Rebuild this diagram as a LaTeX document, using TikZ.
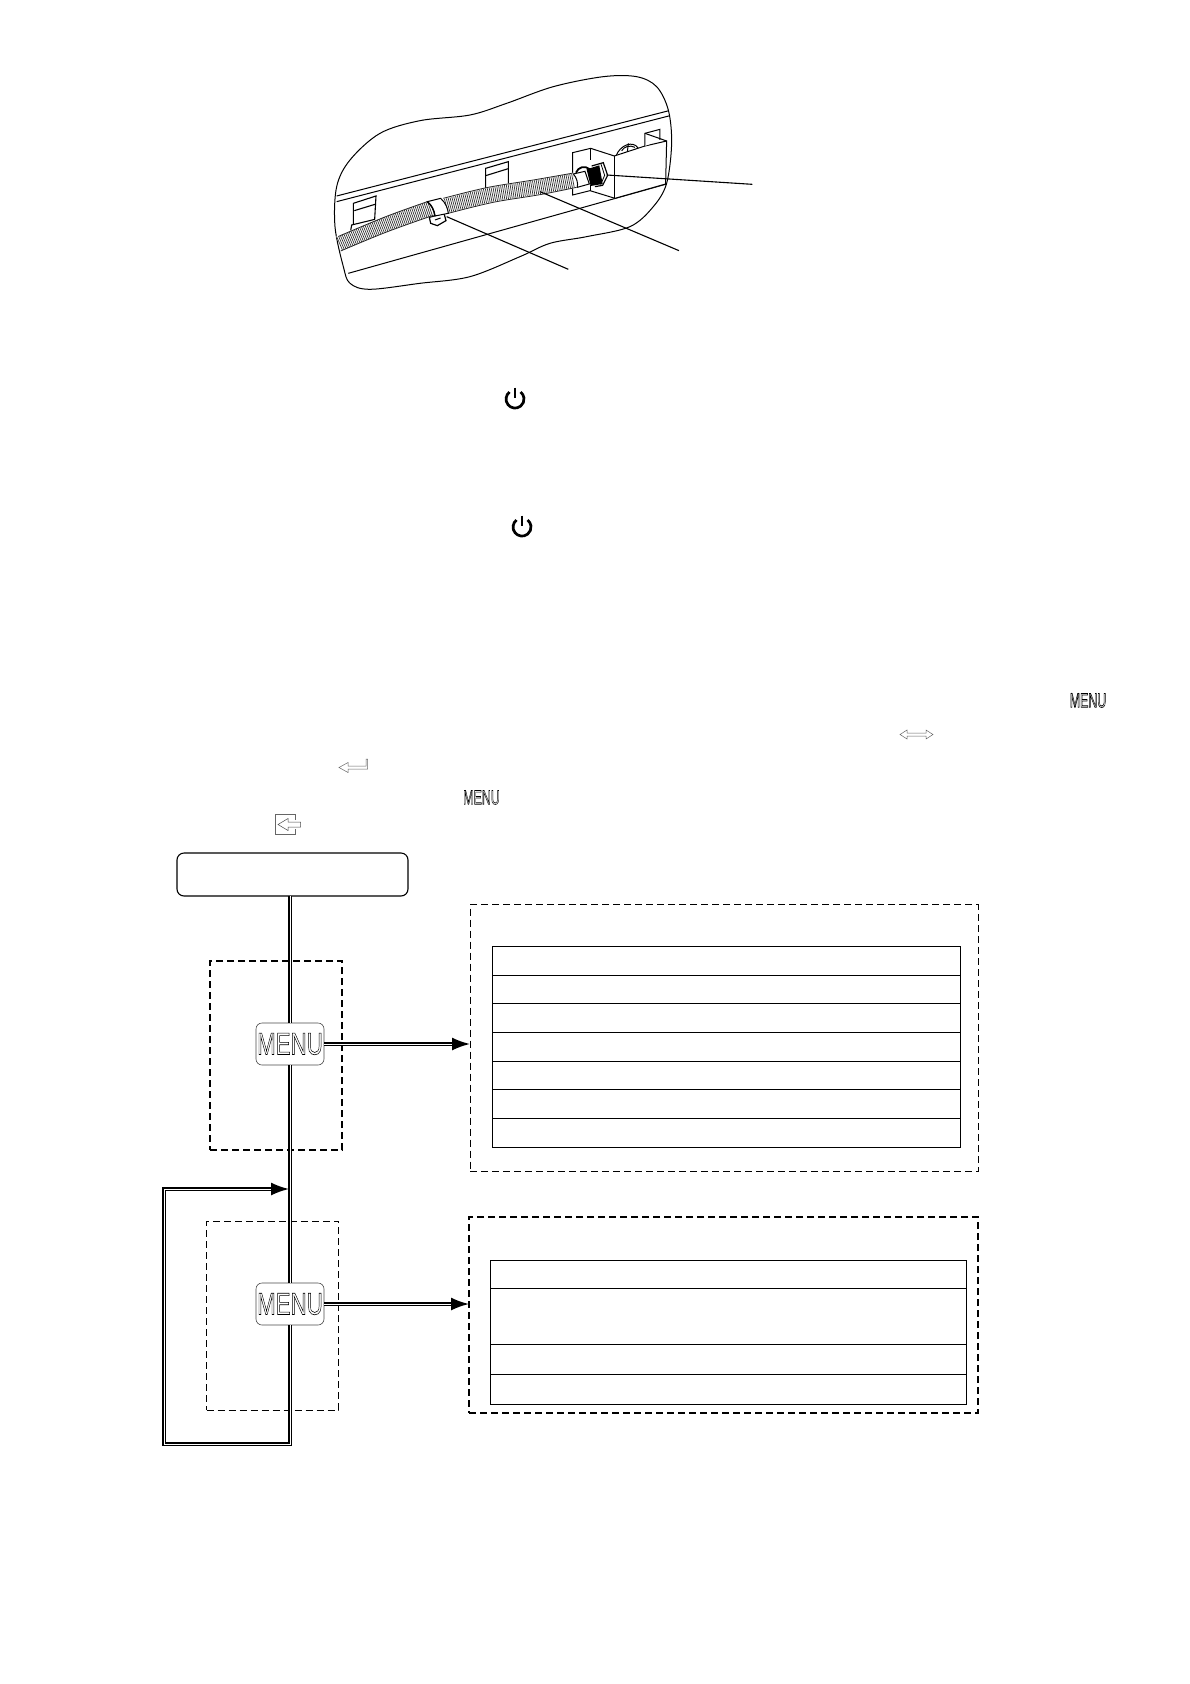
\documentclass[tikz,border=0pt]{standalone}
\usepackage{fontspec}
\setmainfont{Liberation Sans}
\usetikzlibrary{arrows.meta,calc}
\newcommand{\outlinetext}[4]{\scalebox{#2}[1]{\fontsize{#1}{#1}\selectfont\special{pdf:code 1 Tr #3 w}#4\special{pdf:code 0 Tr 0 w}}}
\tikzset{
  thinl/.style={line width=1pt,black},
  dbl/.style={line width=1.8pt,double=white,double distance=1pt,draw=black},
  dblarrow/.style={dbl,-{Latex[length=18pt,width=13pt]}},
  menubox/.style={draw=black!70,line width=0.6pt,rounded corners=6pt,minimum width=68pt,minimum height=42pt,inner sep=0pt,outer sep=0pt,fill=white},
  startbox/.style={draw=black,line width=1.1pt,rounded corners=7pt,minimum width=231pt,minimum height=43pt,inner sep=0pt,outer sep=0pt},
  panel/.style={draw=black,dashed,dash pattern=on 7pt off 4pt,inner sep=0pt,outer sep=0pt},
  tablerow/.style={draw=black,line width=0.9pt},
  icon/.style={draw=black!60,line width=0.5pt,fill=white},
}
\begin{document}
\begin{tikzpicture}[x=1pt,y=-1pt]
\useasboundingbox (0,0) rectangle (1190,1684);
\fill[white] (0,0) rectangle (1190,1684);

% ---------- cut-away sketch, in zoomed coordinates
\begin{scope}[shift={(320,60)},x=0.3333pt,y=-0.3333pt]
  % rails
  \draw[thinl] (50,408) -- (1047,152);
  \draw[thinl] (50,425) -- (1050,167);
  \draw[thinl] (85,640) -- (1040,372);
  % clips
  \draw[thinl,line width=1.1pt] (100,495) -- (100,430) -- (168,408) -- (164,478);
  \draw[thinl,line width=1.1pt] (103,452) -- (165,433);
  \draw[thinl,line width=1.1pt] (92,512) -- (95,495) -- (165,478);
  \draw[thinl,line width=1.1pt] (497,385) -- (497,325) -- (565,305) -- (565,370);
  \draw[thinl,line width=1.1pt] (497,347) -- (565,326);
  % bracket
  \draw[thinl,fill=white] (888,288) .. controls (900,255) and (940,240) .. (955,265);
  \draw[thinl] (905,272) .. controls (915,258) and (930,255) .. (945,262);
  \draw[thinl] (925,250) -- (922,278);
  \draw[thinl,fill=white] (758,278) -- (812,265) -- (883,288) -- (975,258) -- (1040,243) -- (1037,372) -- (885,415) -- (810,392) -- (758,405) -- cycle;
  \draw[thinl] (885,288) -- (885,415);
  \draw[thinl] (812,265) -- (812,300);
  \draw[thinl] (812,375) -- (812,392);
  \draw[thinl,fill=white] (975,258) -- (975,220) -- (1020,208) -- (1020,240);
  \draw[thinl] (975,220) -- (1040,243);
  % blob outline
  \draw[thinl] plot[smooth cycle,tension=0.55] coordinates {(300,182)(450,165)(560,130)(700,80)(850,50)(950,50)(1010,80)(1045,150)(1055,250)(1040,370)(1000,440)(930,500)(800,530)(690,550)(600,590)(450,650)(300,670)(150,688)(90,670)(70,620)(45,500)(50,380)(90,300)(180,220)};
  % clamp foot
  \draw[thinl,line width=1.2pt,fill=white] (328,472) -- (332,490) -- (352,497) -- (378,482) -- (372,460) -- cycle;
  \draw[thinl] (345,480) -- (362,474);
  % hose
  \draw[white,line width=15.5pt] plot[smooth,tension=0.6] coordinates {(58,551)(200,492)(332,445)};
  \draw[white,line width=15.5pt] plot[smooth,tension=0.6] coordinates {(378,438)(510,405)(650,382)(762,361)};
  \draw[black!80,line width=14.5pt,dash pattern=on 0.7pt off 1.2pt] plot[smooth,tension=0.6] coordinates {(58,551)(200,492)(332,445)};
  \draw[black!80,line width=14.5pt,dash pattern=on 0.7pt off 1.2pt] plot[smooth,tension=0.6] coordinates {(378,438)(510,405)(650,382)(762,361)};
  \draw[line width=0.8pt,black!85] plot[smooth,tension=0.6] coordinates {(56,529)(200,469)(325,424)};
  \draw[line width=0.8pt,black!85] plot[smooth,tension=0.6] coordinates {(62,573)(200,516)(340,466)};
  \draw[line width=0.8pt,black!85] plot[smooth,tension=0.6] coordinates {(370,415)(500,383)(640,360)(755,340)};
  \draw[line width=0.8pt,black!85] plot[smooth,tension=0.6] coordinates {(385,460)(520,427)(660,404)(770,382)};
  % clamp band
  \draw[thinl,fill=white] (322,425) -- (362,415) .. controls (378,430) and (383,445) .. (385,460) -- (345,468) .. controls (342,450) and (335,435) .. (322,425) -- cycle;
  \draw[thinl,line width=1.4pt] (322,425) .. controls (335,435) and (342,450) .. (345,468);
  % fitting
  \draw[thinl,line width=1.8pt] (768,338) .. controls (775,320) and (795,316) .. (810,328);
  \draw[thinl,fill=white] (760,342) -- (795,334) -- (808,372) -- (772,382) .. controls (775,370) and (770,352) .. (760,342) -- cycle;
  \fill[black] (800,328) -- (838,316) -- (848,372) -- (812,378) -- cycle;
  \draw[thinl,line width=1.2pt] (815,318) -- (850,308) -- (863,346) -- (848,376) -- (825,380);
  \draw[thinl,line width=0.8pt] (843,312) -- (854,346) -- (842,374);
  % leaders
  \coordinate (leadA) at (860,345); \coordinate (leadAe) at (1297,373);
  \coordinate (leadB) at (660,395); \coordinate (leadBe) at (1077,572);
  \coordinate (leadC) at (380,470); \coordinate (leadCe) at (745,628);
  \draw[thinl,line width=1.1pt] (leadA) -- (leadAe);
  \draw[thinl,line width=1.1pt] (leadB) -- (leadBe);
  \draw[thinl,line width=1.1pt] (leadC) -- (leadCe);
\end{scope}

% ---------- power symbols
\foreach \px/\py in {515/399,522/527}{
  \draw[line width=2.7pt] (\px-5.5,\py-7) arc[start angle=-128,end angle=-412,radius=9] ;
  \draw[line width=2.7pt] (\px,\py-11.5) -- (\px,\py-1);
}

% ---------- inline icons
\node[anchor=center,inner sep=0pt] (menuinlineA) at (1088,700.5) {\outlinetext{20pt}{0.62}{0.7}{MENU}};
\node[anchor=center,inner sep=0pt] (menuinlineB) at (481.5,797.5) {\outlinetext{20pt}{0.62}{0.6}{MENU}};
\draw[icon] (900,734.5) -- (907,730) -- (907,733) -- (926,733) -- (926,730) -- (933,734.5) -- (926,739) -- (926,736) -- (907,736) -- (907,739) -- cycle;
\draw[icon] (339,767.5) -- (348,762.5) -- (348,766) -- (366,766) -- (366,759) -- (367.5,759) -- (367.5,769) -- (348,769) -- (348,772.5) -- cycle;
\draw[line width=0.9pt,draw=black!60] (295.5,820) -- (295.5,814.5) -- (275,814.5) -- (275,834.5) -- (295.5,834.5) -- (295.5,829);
\draw[line width=0.5pt,draw=black!70,fill=white] (278,824.5) -- (288,818.5) -- (288,822) -- (300.5,822) -- (300.5,827) -- (288,827) -- (288,830.5) -- cycle;

% ---------- panels
\node[panel,line width=1.4pt,minimum width=132pt,minimum height=189pt] (stepA) at (276,1055.5) {};
\node[panel,line width=1pt,minimum width=132pt,minimum height=189pt] (stepB) at (272.5,1315.5) {};
\node[panel,line width=1pt,minimum width=508pt,minimum height=267pt] (panelA) at (724,1038) {};
\node[panel,line width=1.4pt,minimum width=509pt,minimum height=196pt] (panelB) at (723.5,1315) {};

% ---------- tables
\foreach \ya/\yb in {946.5/975,975/1003,1003/1032,1032/1061,1061/1089,1089/1118,1118/1147}{
  \draw[tablerow] (492.5,\ya) rectangle (960,\yb);
}
\foreach \ya/\yb in {1260/1288,1288/1344.5,1344.5/1374,1374/1404}{
  \draw[tablerow] (490.5,\ya) rectangle (966.5,\yb);
}

% ---------- flow
\node[startbox] (start) at (292.5,874.5) {};
\node[menubox] (menuA) at (290,1044) {\outlinetext{31pt}{0.72}{0.6}{MENU}};
\node[menubox] (menuB) at (290,1304) {\outlinetext{31pt}{0.72}{0.6}{MENU}};
\coordinate (loopcorner) at (164,1444);
\coordinate (loopentry) at (289,1189);

\draw[dbl] (menuA.north |- start.south) -- (menuA.north);
\draw[dbl] (menuA.south) -- (menuB.north);
\draw[dblarrow] (menuA.east) -- (menuA.east -| panelA.west);
\draw[dblarrow] (menuB.east) -- (menuB.east -| panelB.west);
\draw[dblarrow] (menuB.south) |- (loopcorner) |- (loopentry);
\end{tikzpicture}
\end{document}
